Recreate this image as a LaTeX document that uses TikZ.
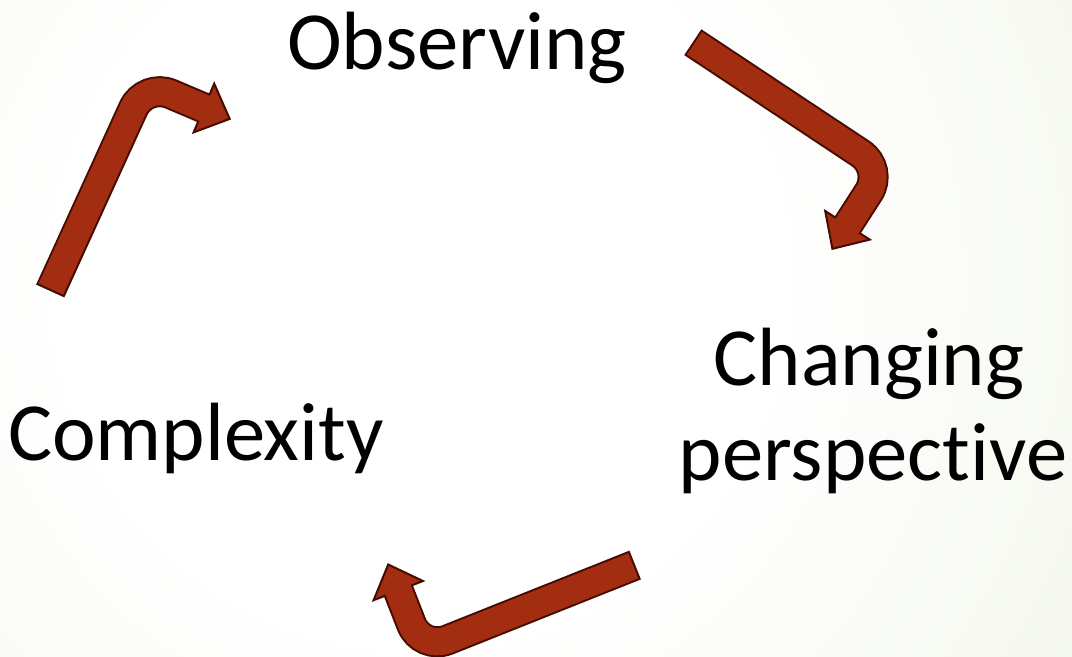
\documentclass[tikz,border=0pt]{standalone}
\usepackage{fontspec}
\setmainfont{Carlito}[Ligatures={NoCommon}]
\definecolor{arrfill}{RGB}{162,45,16}
\definecolor{arrline}{RGB}{70,12,4}
\definecolor{bgout}{RGB}{228,236,213}
\pgfdeclareradialshading{bgshade}{\pgfpoint{0bp}{0bp}}{color(0bp)=(white); color(12bp)=(white); color(50bp)=(bgout)}
\begin{document}
\begin{tikzpicture}[x=0.75pt,y=-0.75pt,
  lbl/.style={font=\fontsize{62}{74}\selectfont, inner sep=0pt, anchor=base, text=black},
  arrout/.style={draw=arrline, line width=23.25pt, rounded corners=21pt, line cap=butt},
  arrin/.style={draw=arrfill, line width=20.25pt, rounded corners=21pt, line cap=butt},
  arrhead/.style={fill=arrfill, draw=arrline, line width=1.5pt, line join=miter}]
\useasboundingbox (0,0) rectangle (1072,657);
\begin{scope}
  \clip (0,0) rectangle (1072,657);
  \shade[shading=bgshade] (-300,-440) rectangle (1140,1000);
\end{scope}

% texts
\node[lbl] (obs) at (457,69) {Observing};
\node[lbl] (chg) at (869,385) {Changing};
\node[lbl] (persp) at (873,480) {perspective};
\node[lbl] (cpx) at (196,460) {Complexity};

% arrow 1 (Complexity -> Observing)
\coordinate (t1) at (51,289);
\coordinate (t1x) at (50.2,291.0);
\coordinate (c1) at (145,83);
\coordinate (b1) at (203.9,108);
\coordinate (b1x) at (205.7,108.8);
\coordinate (p1) at (229.7,118.9);
\coordinate (u1) at (214.2,83.6);
\coordinate (v1) at (193.6,132.4);
\draw[arrout] (t1x) -- (c1) -- (b1);
\filldraw[arrhead] (u1) -- (p1) -- (v1) -- cycle;
\draw[arrin] (t1) -- (c1) -- (b1x);

% arrow 2 (Observing -> Changing perspective)
\coordinate (t2) at (694.5,43.3);
\coordinate (t2x) at (692.8,42.2);
\coordinate (c2) at (883.8,168.9);
\coordinate (b2) at (847.5,225.3);
\coordinate (b2x) at (846.4,227.0);
\coordinate (p2) at (832.4,248.8);
\coordinate (u2) at (869.8,239.6);
\coordinate (v2) at (825.2,211.0);
\draw[arrout] (t2x) -- (c2) -- (b2);
\filldraw[arrhead] (u2) -- (p2) -- (v2) -- cycle;
\draw[arrin] (t2) -- (c2) -- (b2x);

% arrow 3 (Changing perspective -> Complexity)
\coordinate (t3) at (633.3,565.8);
\coordinate (t3x) at (635.2,565.0);
\coordinate (c3) at (421.6,650.2);
\coordinate (b3) at (398.3,590.6);
\coordinate (b3x) at (397.6,588.7);
\coordinate (p3) at (388.2,564.5);
\coordinate (u3) at (423.0,581.0);
\coordinate (v3) at (373.6,600.2);
\draw[arrout] (t3x) -- (c3) -- (b3);
\filldraw[arrhead] (u3) -- (p3) -- (v3) -- cycle;
\draw[arrin] (t3) -- (c3) -- (b3x);
\end{tikzpicture}
\end{document}
